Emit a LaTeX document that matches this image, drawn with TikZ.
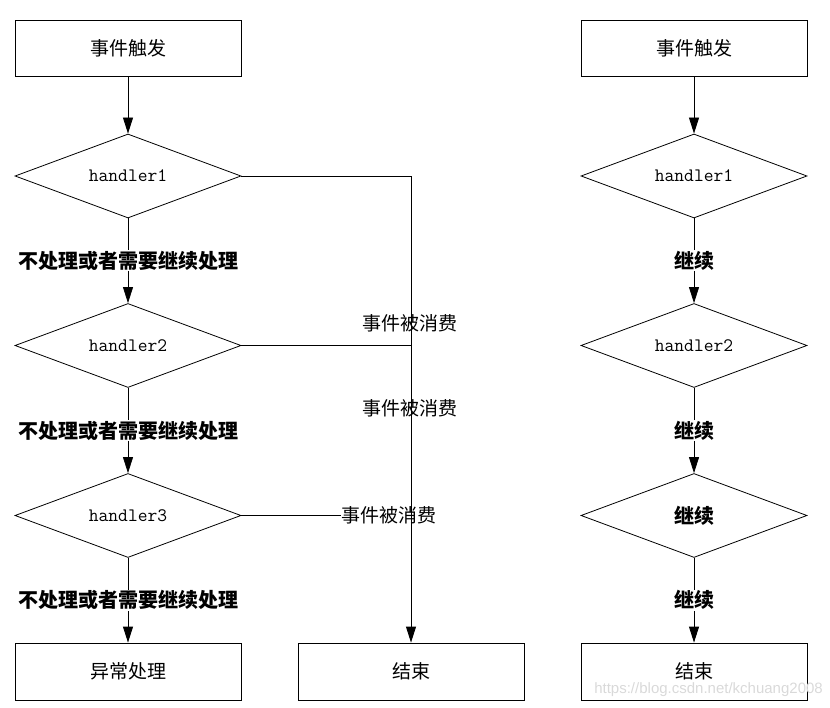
\documentclass[tikz,border=0pt]{standalone}
\usepackage{fontspec}
\newfontfamily\cjk{Noto Sans CJK SC}
\newfontfamily\marksans{Liberation Sans}
\usetikzlibrary{shapes.geometric,arrows.meta,positioning}

\begin{document}
\begin{tikzpicture}[x=1pt,y=-1pt,
		every node/.style={font=\cjk\fontsize{19}{21}\selectfont},
		stepbox/.style={draw,line width=0.8pt,minimum width=226pt,minimum height=56pt,inner sep=0pt},
		handlerbox/.style={draw,diamond,aspect=2.7,line width=0.8pt,minimum width=226pt,minimum height=84pt,inner sep=0pt,font=\ttfamily\fontsize{19}{21}\selectfont},
		passlabel/.style={fill=white,inner sep=1pt,font=\cjk\bfseries\fontsize{20}{22}\selectfont},
		eatlabel/.style={inner sep=0pt},
		flow/.style={line width=0.8pt,-{Triangle[length=16pt,width=10pt]}},
		plain/.style={line width=0.8pt}]
	\pgfmathsetmacro{\LeftX}{128}
	\pgfmathsetmacro{\MidX}{411}
	\pgfmathsetmacro{\RightX}{694}
	\pgfmathsetmacro{\RowA}{48}
	\pgfmathsetmacro{\RowB}{176}
	\pgfmathsetmacro{\RowC}{345.5}
	\pgfmathsetmacro{\RowD}{515.5}
	\pgfmathsetmacro{\RowE}{671.5}
	\useasboundingbox (0,0) rectangle (830,708);
	
	% LEFT
	\node[stepbox] (TrigL) at (\LeftX,\RowA) {事件触发};
	\node[handlerbox] (HandOneL) at (\LeftX,\RowB) {handler1};
	\node[handlerbox] (HandTwoL) at (\LeftX,\RowC) {handler2};
	\node[handlerbox] (HandThreeL) at (\LeftX,\RowD) {handler3};
	\node[stepbox,minimum height=57pt] (ErrL) at (\LeftX,\RowE) {异常处理};
	\node[stepbox,minimum height=57pt] (EndL) at (\MidX,\RowE) {结束};
	\draw[flow] (TrigL.south) -- (HandOneL.north);
	\draw[flow] (HandOneL.south) -- node[passlabel] {不处理或者需要继续处理} (HandTwoL.north);
	\draw[flow] (HandTwoL.south) -- node[passlabel] {不处理或者需要继续处理} (HandThreeL.north);
	\draw[flow] (HandThreeL.south) -- node[passlabel] {不处理或者需要继续处理} (ErrL.north);
	
	% CONSUMED
	\draw[flow] (HandOneL.east) -| (EndL.north);
	\draw[plain] (HandTwoL.east) -- (HandTwoL.east -| EndL.north);
	\node[eatlabel] (EatA) at (410,323) {事件被消费};
	\node[eatlabel] (EatB) at (410,408) {事件被消费};
	\node[eatlabel] (EatC) at (389,\RowD) {事件被消费};
	\draw[plain] (HandThreeL.east) -- (EatC.west);
	
	% RIGHT
	\node[stepbox] (TrigR) at (\RightX,\RowA) {事件触发};
	\node[handlerbox] (HandOneR) at (\RightX,\RowB) {handler1};
	\node[handlerbox] (HandTwoR) at (\RightX,\RowC) {handler2};
	\node[handlerbox,font=\cjk\bfseries\fontsize{20}{22}\selectfont] (HandThreeR) at (\RightX,\RowD) {继续};
	\node[stepbox,minimum height=57pt] (EndR) at (\RightX,\RowE) {结束};
	\draw[flow] (TrigR.south) -- (HandOneR.north);
	\draw[flow] (HandOneR.south) -- node[passlabel] {继续} (HandTwoR.north);
	\draw[flow] (HandTwoR.south) -- node[passlabel] {继续} (HandThreeR.north);
	\draw[flow] (HandThreeR.south) -- node[passlabel] {继续} (EndR.north);
	
	% MARK
	\node[anchor=east,inner sep=0pt,text=gray!30,font=\marksans\fontsize{15}{17}\selectfont] (Mark) at (823,690) {https://blog.csdn.net/kchuang2008};
\end{tikzpicture}
\end{document}
